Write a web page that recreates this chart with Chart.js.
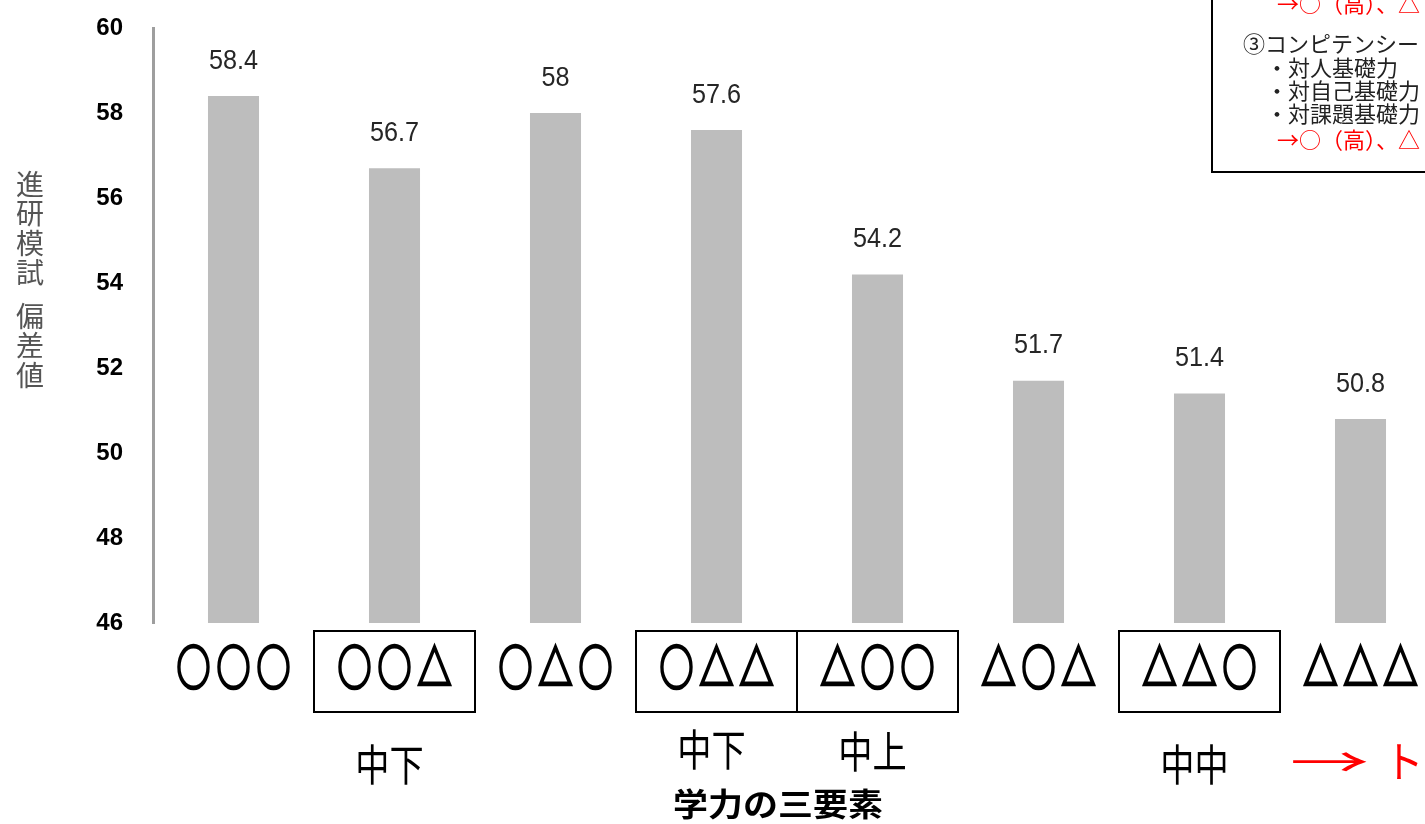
<!DOCTYPE html>
<html>
<head>
<meta charset="utf-8">
<script src="https://cdn.jsdelivr.net/npm/chart.js@4/dist/chart.umd.min.js"></script>
<style>
  html, body { margin: 0; padding: 0; background: #fff; overflow: hidden; }
  #wrap { width: 1445px; height: 824px; }
</style>
</head>
<body>
<div id="wrap"><canvas id="myChart" width="1445" height="824"></canvas></div>
<script>
const categories = ['○○○', '○○△', '○△○', '○△△', '△○○', '△○△', '△△○', '△△△'];
const scores = [58.4, 56.7, 58, 57.6, 54.2, 51.7, 51.4, 50.8];
const levels = ['', '中下', '', '中下', '中上', '', '中中', '→ト'];
const boxed = [false, true, false, true, true, false, true, false];
const yMin = 46, yMax = 60, yStep = 2;
const yTitle = ['進', '研', '模', '試', ' ', '偏', '差', '値'];
const xTitle = '学力の三要素';
const noteLines = ['→○（高）、△', '③コンピテンシー', '・対人基礎力', '・対自己基礎力', '・対課題基礎力', '→○（高）、△'];

const JP = '"Noto Sans CJK JP", "Noto Sans", sans-serif';

// y of each level label (they are not on one line in the picture)
const levelY = [0, 765, 0, 750, 752, 0, 765, 762];

function squeezedText(ctx, text, x, y, sx, sy, stroke) {
    ctx.save();
    ctx.translate(x, y);
    ctx.scale(sx, sy);
    if (stroke) ctx.strokeText(text, 0, 0);
    ctx.fillText(text, 0, 0);
    ctx.restore();
}

const overlay = {
    id: 'overlay',
    afterDatasetsDraw(chart) {
        const ctx = chart.ctx;
        const xs = chart.scales.x;
        const bars = chart.getDatasetMeta(0).data;
        const band = bars.length > 1 ? bars[1].x - bars[0].x : 161;

        // values above bars
        ctx.save();
        ctx.fillStyle = '#262626';
        ctx.font = '28px "Liberation Sans", Arial, sans-serif';
        ctx.textAlign = 'center';
        ctx.textBaseline = 'middle';
        bars.forEach((b, i) => {
            squeezedText(ctx, String(scores[i]), b.x, b.y - 35, 0.9, 1);
        });
        ctx.restore();

        // y title, stacked
        ctx.save();
        ctx.fillStyle = '#555';
        ctx.font = '28px ' + JP;
        ctx.textAlign = 'center';
        ctx.textBaseline = 'middle';
        let ty = 184;
        yTitle.forEach(ch => {
            if (ch === ' ') { ty += 14; return; }
            ctx.fillText(ch, 30, ty);
            ty += 29.5;
        });
        ctx.restore();

        // category symbols and boxes
        ctx.save();
        ctx.fillStyle = '#000';
        ctx.strokeStyle = '#000';
        ctx.font = 'bold 40px ' + JP;
        ctx.textAlign = 'center';
        ctx.textBaseline = 'middle';
        categories.forEach((c, i) => {
            const cx = xs.getPixelForValue(i);
            ctx.lineWidth = 2.2;
            Array.from(c).forEach((ch, k) => {
                squeezedText(ctx, ch, cx + (k - 1) * 40, 667, 0.85, 1.2, true);
            });
            if (boxed[i]) {
                ctx.lineWidth = 2;
                ctx.strokeRect(cx - band / 2, 631, band, 81);
            }
        });
        ctx.restore();

        // level labels
        ctx.save();
        ctx.textBaseline = 'middle';
        ctx.font = '36px ' + JP;
        levels.forEach((t, i) => {
            if (!t) return;
            const cx = xs.getPixelForValue(i);
            if (t.startsWith('→')) {
                ctx.fillStyle = '#ff0000';
                ctx.textAlign = 'left';
                const parts = Array.from(t);
                squeezedText(ctx, parts[0], 1290, levelY[i], 2.2, 1.1);
                squeezedText(ctx, parts.slice(1).join(''), 1384, levelY[i], 1.1, 1.2);
            } else {
                ctx.fillStyle = '#000';
                ctx.textAlign = 'center';
                squeezedText(ctx, t, cx - 5, levelY[i], 0.95, 1.2);
            }
        });
        ctx.restore();

        // x title
        ctx.save();
        ctx.fillStyle = '#000';
        ctx.font = 'bold 35px ' + JP;
        ctx.textAlign = 'center';
        ctx.textBaseline = 'middle';
        squeezedText(ctx, xTitle, 778, 804, 1, 0.9);
        ctx.restore();

        // note box, top right
        ctx.save();
        ctx.strokeStyle = '#000';
        ctx.lineWidth = 2;
        ctx.strokeRect(1212, -10, 260, 182);
        ctx.font = '22px ' + JP;
        ctx.textBaseline = 'middle';
        ctx.textAlign = 'left';
        const noteY = [4, 44, 68, 91, 114, 140];
        const noteX = [1277, 1243, 1266, 1266, 1266, 1277];
        noteLines.forEach((t, i) => {
            ctx.fillStyle = t.startsWith('→') ? '#ff0000' : '#222';
            ctx.fillText(t, noteX[i], noteY[i]);
        });
        ctx.restore();
    }
};

new Chart(document.getElementById('myChart'), {
    type: 'bar',
    data: {
        labels: categories,
        datasets: [{
            data: scores,
            backgroundColor: '#bdbdbd',
            borderWidth: 0,
            barPercentage: 0.317,
            categoryPercentage: 1,
        }]
    },
    options: {
        responsive: false,
        animation: false,
        layout: { padding: { top: 28, bottom: 201, left: 0, right: 4 } },
        plugins: {
            legend: { display: false },
            tooltip: { enabled: false },
        },
        scales: {
            x: {
                display: false,
            },
            y: {
                min: yMin,
                max: yMax,
                afterFit(scale) { scale.width = 153; },
                ticks: {
                    stepSize: yStep,
                    padding: 0,
                    color: '#000',
                    font: { family: '"Liberation Sans", Arial, sans-serif', size: 24, weight: 'bold' },
                },
                grid: { display: true, color: 'rgba(0,0,0,0)', drawOnChartArea: false, drawTicks: true, tickLength: 30 },
                border: { display: true, color: '#9e9e9e', width: 3 },
            }
        }
    },
    plugins: [overlay]
});
</script>
</body>
</html>
